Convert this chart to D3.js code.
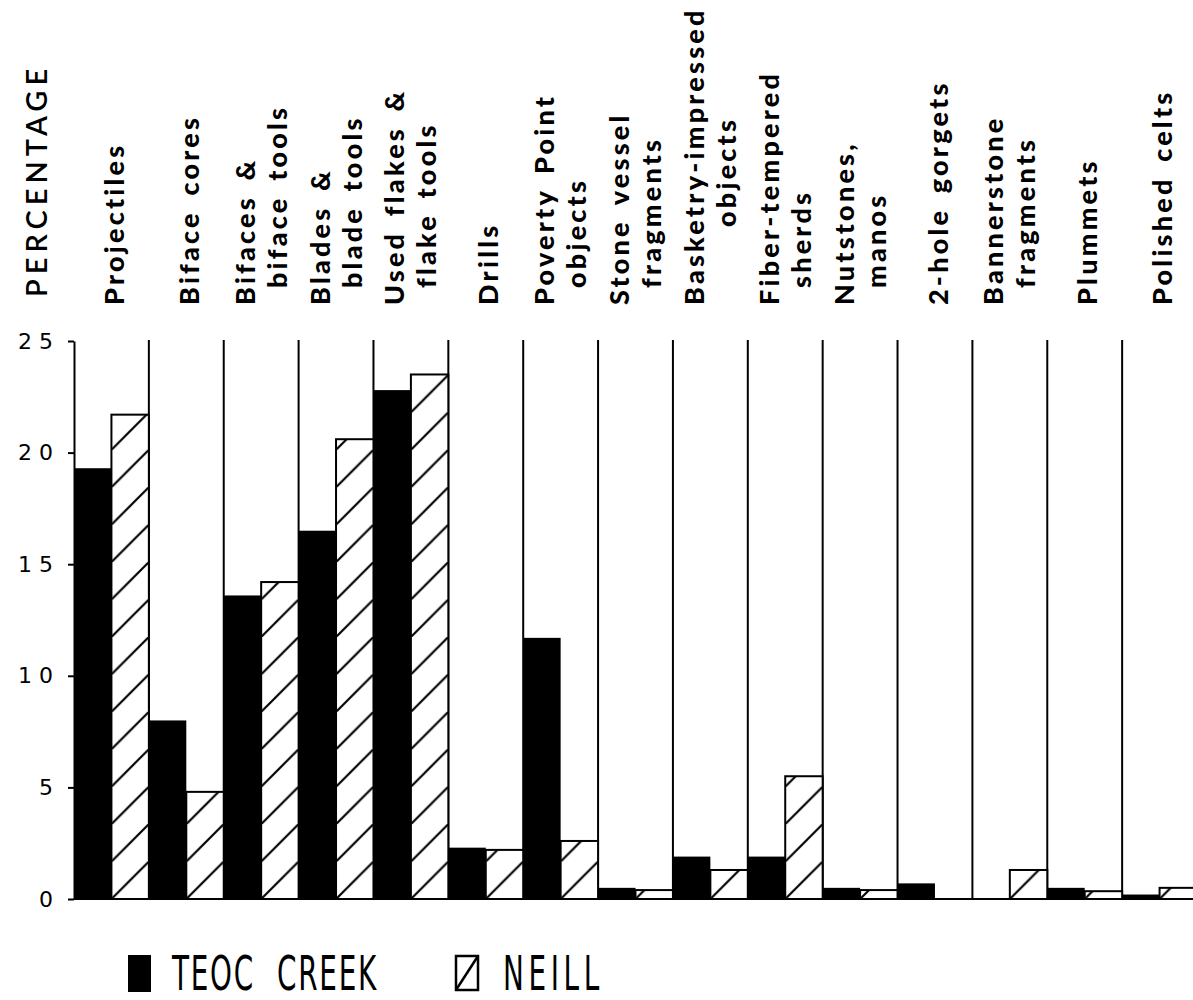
<!DOCTYPE html>
<html lang="en">
	<head>
		<meta charset="utf-8">
		<title>Artifact percentages: Teoc Creek and Neill</title>
		<script type="text/javascript" src="https://cdn.jsdelivr.net/npm/d3@7"></script>
		<style type="text/css">
			body { margin: 0; background: #fff; }
			.cat { font-family: Lato, "Open Sans", sans-serif; font-weight: 900; font-size: 27px; letter-spacing: 3.2px; word-spacing: 5px; }
			.tick text { font-family: "DejaVu Sans", sans-serif; font-weight: 400; font-size: 22px; letter-spacing: 7px; fill: #000; }
		</style>
	</head>
	<body>
		<script type="text/javascript">

			//Width and height
			var w = 1193;
			var h = 1000;

			//Category labels, one entry per line of text
			var categories = [
				["Projectiles"],
				["Biface cores"],
				["Bifaces &", "biface tools"],
				["Blades &", "blade tools"],
				["Used flakes &", "flake tools"],
				["Drills"],
				["Poverty Point", "objects"],
				["Stone vessel", "fragments"],
				["Basketry-impressed", "objects"],
				["Fiber-tempered", "sherds"],
				["Nutstones,", "manos"],
				["2-hole gorgets"],
				["Bannerstone", "fragments"],
				["Plummets"],
				["Polished celts"]
			];

			//Percentages
			var teoc  = [19.3, 8.0, 13.6, 16.5, 22.8, 2.3, 11.7, 0.5, 1.9, 1.9, 0.5, 0.7, 0, 0.5, 0.2];
			var neill = [21.7, 4.8, 14.2, 20.6, 23.5, 2.2, 2.6, 0.4, 1.3, 5.5, 0.4, 0, 1.3, 0.35, 0.5];

			var yTicks = [0, 5, 10, 15, 20, 25];
			var seriesNames = ["TEOC CREEK", "NEILL"];

			var names = categories.map(function(d) { return d.join(" "); });

			var svg = d3.select("body")
						.append("svg")
						.attr("width", w)
						.attr("height", h);

			var x = d3.scaleBand()
					  .domain(names)
					  .range([74, 1197]);

			var sub = d3.scaleBand()
						.domain(["teoc", "neill"])
						.range([0, x.bandwidth()]);

			var y = d3.scaleLinear()
					  .domain([0, 25])
					  .range([899, 341]);

			var defs = svg.append("defs");

			//one hatch pattern per Neill bar so the lines start at its bottom-left corner
			var bw = sub.bandwidth();
			names.forEach(function(n, i) {
				var p = defs.append("pattern")
							.attr("id", "hatch" + i)
							.attr("patternUnits", "userSpaceOnUse")
							.attr("x", x(n) + sub("neill"))
							.attr("y", y(0))
							.attr("width", bw)
							.attr("height", bw);
				p.append("rect")
				 .attr("width", bw)
				 .attr("height", bw)
				 .attr("fill", "#fff");
				p.append("line")
				 .attr("x1", -1).attr("y1", bw + 1)
				 .attr("x2", bw + 1).attr("y2", -1)
				 .attr("stroke", "#000")
				 .attr("stroke-width", 2.2);
			});

			//group separators
			svg.selectAll("line.sep")
			   .data(names.slice(1))
			   .enter()
			   .append("line")
			   .attr("class", "sep")
			   .attr("x1", function(d) { return x(d); })
			   .attr("x2", function(d) { return x(d); })
			   .attr("y1", y(25) - 1)
			   .attr("y2", y(0))
			   .attr("stroke", "#000")
			   .attr("stroke-width", 2);

			//Teoc Creek bars
			svg.selectAll("rect.teoc")
			   .data(teoc)
			   .enter()
			   .append("rect")
			   .attr("class", "teoc")
			   .attr("x", function(d, i) { return x(names[i]) + sub("teoc"); })
			   .attr("y", function(d) { return y(d); })
			   .attr("width", bw)
			   .attr("height", function(d) { return y(0) - y(d); })
			   .attr("fill", "#000");

			//Neill bars (a zero value draws nothing)
			svg.selectAll("rect.neill")
			   .data(neill)
			   .enter()
			   .append("rect")
			   .attr("class", "neill")
			   .attr("x", function(d, i) { return x(names[i]) + sub("neill"); })
			   .attr("y", function(d) { return y(d); })
			   .attr("width", bw)
			   .attr("height", function(d) { return y(0) - y(d); })
			   .attr("display", function(d) { return d > 0 ? null : "none"; })
			   .attr("fill", function(d, i) { return "url(#hatch" + i + ")"; })
			   .attr("stroke", "#000")
			   .attr("stroke-width", 2);

			//baseline
			svg.append("line")
			   .attr("x1", 74)
			   .attr("x2", w)
			   .attr("y1", y(0))
			   .attr("y2", y(0))
			   .attr("stroke", "#000")
			   .attr("stroke-width", 2);

			//y axis
			var axis = svg.append("g")
						  .attr("transform", "translate(74,0)")
						  .call(d3.axisLeft(y)
								  .tickValues(yTicks)
								  .tickSize(6)
								  .tickSizeOuter(0)
								  .tickPadding(8));
			axis.select(".domain").attr("stroke-width", 2);
			axis.selectAll(".tick line").attr("stroke-width", 2);

			svg.append("text")
			   .attr("transform", "translate(47,297) rotate(-90)")
			   .attr("font-family", "Lato, sans-serif")
			   .attr("font-weight", 600)
			   .attr("font-size", "29px")
			   .attr("letter-spacing", "5px")
			   .text("PERCENTAGE");

			//category labels, rotated, reading upwards
			var secondStart = { "Basketry-impressed objects": 227 };
			categories.forEach(function(lines, i) {
				var gx = x(names[i]);
				lines.forEach(function(t, j) {
					var bx, by;
					if (lines.length === 1) { bx = gx + 50; by = 305; }
					else if (j === 0) { bx = gx + 31; by = 305; }
					else { bx = gx + 63; by = secondStart[names[i]] || 288; }
					svg.append("text")
					   .attr("class", "cat")
					   .attr("transform", "translate(" + bx + "," + by + ") rotate(-90)")
					   .text(t);
				});
			});

			//legend
			var legend = svg.append("g");
			legend.append("rect")
				  .attr("x", 128).attr("y", 955)
				  .attr("width", 23).attr("height", 37)
				  .attr("fill", "#000");
			legend.append("rect")
				  .attr("x", 456).attr("y", 956)
				  .attr("width", 22).attr("height", 34)
				  .attr("fill", "#fff")
				  .attr("stroke", "#000")
				  .attr("stroke-width", 2.5);
			legend.append("line")
				  .attr("x1", 456).attr("y1", 990)
				  .attr("x2", 478).attr("y2", 956)
				  .attr("stroke", "#000")
				  .attr("stroke-width", 2.5);
			legend.selectAll("text")
				  .data(seriesNames)
				  .enter()
				  .append("text")
				  .attr("transform", function(d, i) {
						return "translate(" + (i === 0 ? 172 : 503) + ",990) scale(0.58,1)";
				  })
				  .attr("font-family", "DejaVu Sans, sans-serif")
				  .attr("font-weight", 400)
				  .attr("font-size", "48px")
				  .attr("letter-spacing", function(d, i) { return i === 0 ? "3px" : "8px"; })
				  .attr("word-spacing", "20px")
				  .attr("fill", "#000")
				  .text(function(d) { return d; });

		</script>
	</body>
</html>
